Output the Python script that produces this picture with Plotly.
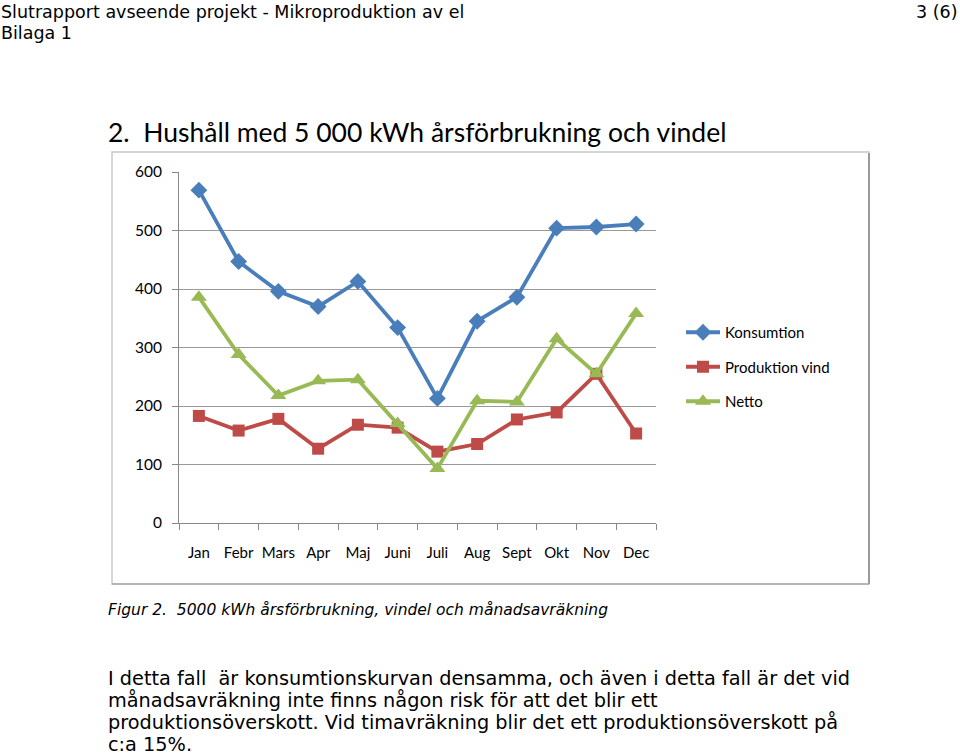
import plotly.graph_objects as go

months = ["Jan", "Febr", "Mars", "Apr", "Maj", "Juni", "Juli", "Aug", "Sept", "Okt", "Nov", "Dec"]
konsumtion = [569, 447, 396, 370, 413, 334, 213, 345, 386, 504, 506, 511]
produktion_vind = [183, 158, 178, 127, 168, 163, 122, 135, 177, 189, 255, 153]
netto = [386, 288, 218, 243, 245, 170, 93, 209, 207, 315, 255, 358]
y_ticks = [0, 100, 200, 300, 400, 500, 600]

W, H = 960, 755
PL, PR, PT, PB = 179, 656, 172, 523  # plot area in page pixels


def px(x):
    return (x - PL) / (PR - PL)


def py(y):
    return (PB - y) / (PB - PT)


fig = go.Figure()

series = [
    ("Konsumtion", konsumtion, "#4a7ebb", "diamond", 13),
    ("Produktion vind", produktion_vind, "#be4b48", "square", 12),
    ("Netto", netto, "#98b954", "triangle-up", 14),
]
for i, (name, vals, col, sym, sz) in enumerate(series):
    fig.add_trace(go.Scatter(
        x=months, y=vals, name=name, mode="lines+markers",
        line=dict(color=col, width=3.8),
        marker=dict(symbol=sym, size=sz, color=col),
        legendgroup=f"g{i}",
    ))

chart_font = "Lato, 'Open Sans', sans-serif"
doc_font = "'DejaVu Sans', Verdana, sans-serif"

fig.update_layout(
    width=W, height=H,
    margin=dict(l=PL, r=W - PR, t=PT, b=H - PB, pad=0),
    paper_bgcolor="white", plot_bgcolor="white",
    showlegend=True,
    legend=dict(
        x=px(681), y=py(316), xanchor="left", yanchor="top",
        font=dict(family=chart_font, size=15, color="#000"),
        tracegroupgap=12, itemwidth=34, bgcolor="rgba(0,0,0,0)",
        traceorder="grouped",
    ),
    xaxis=dict(
        type="category", range=[-0.5, 11.5], tickson="boundaries",
        ticks="outside", ticklen=6, tickcolor="#888", tickwidth=1,
        showline=True, linecolor="#888", linewidth=1,
        showgrid=False, zeroline=False, tickangle=0,
        tickfont=dict(family=chart_font, size=15, color="#000"),
        ticklabelstandoff=16,
    ),
    yaxis=dict(
        range=[0, 600], tickvals=y_ticks,
        ticks="outside", ticklen=6, tickcolor="#888", tickwidth=1,
        showline=True, linecolor="#888", linewidth=1,
        showgrid=True, gridcolor="#999", gridwidth=1, zeroline=False,
        tickfont=dict(family=chart_font, size=15.5, color="#000"),
        ticklabelstandoff=7,
    ),
)

# chart frame
fig.add_shape(type="rect", xref="paper", yref="paper",
              x0=px(112), x1=px(869), y0=py(584), y1=py(152),
              line=dict(color="#c8c8c8", width=1.5), layer="below")
fig.add_shape(type="line", xref="paper", yref="paper",
              x0=px(869), x1=px(869), y0=py(584), y1=py(153),
              line=dict(color="#9a9a9a", width=2))
fig.add_shape(type="line", xref="paper", yref="paper",
              x0=px(112), x1=px(869), y0=py(584), y1=py(584),
              line=dict(color="#aaaaaa", width=1.5))

def note(text, x, y, size, family, xanchor="left", italic=False):
    fig.add_annotation(
        text=f"<i>{text}</i>" if italic else text,
        x=px(x), y=py(y), xref="paper", yref="paper",
        xanchor=xanchor, yanchor="middle", showarrow=False,
        font=dict(family=family, size=size, color="#000"),
    )

note("Slutrapport avseende projekt - Mikroproduktion av el", -1, 12, 17.5, doc_font)
note("Bilaga 1", -1, 33, 17.5, doc_font)
note("3 (6)", 960, 12, 17.5, doc_font, xanchor="right")
note("2.  Hushåll med 5 000 kWh årsförbrukning och vindel", 106, 132, 26.5, chart_font)
note("Figur 2.  5000 kWh årsförbrukning, vindel och månadsavräkning", 106, 610, 15.5, doc_font, italic=True)
body = [
    "I detta fall  är konsumtionskurvan densamma, och även i detta fall är det vid",
    "månadsavräkning inte finns någon risk för att det blir ett",
    "produktionsöverskott. Vid timavräkning blir det ett produktionsöverskott på",
    "c:a 15%.",
]
for i, line in enumerate(body):
    note(line, 106, 678 + i * 22.3, 19.3, doc_font)

fig.write_html("out.html", config={"displayModeBar": False},
               post_script="document.body.style.margin='0';document.body.style.overflow='hidden';")
